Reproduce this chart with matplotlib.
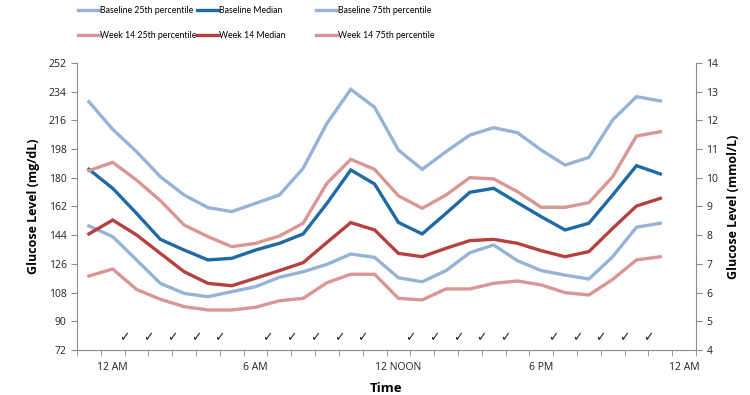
import matplotlib
matplotlib.use("Agg")
import matplotlib.pyplot as plt
import numpy as np

# hourly categories: 11 PM, 12 AM ... 11 PM, plus an empty 12 AM slot at the end
n_categories = 26
tick_positions = [1, 7, 13, 19, 25]
tick_labels = ["12 AM", "6 AM", "12 NOON", "6 PM", "12 AM"]

base_p25 = [149.8, 143.1, 128.5, 113.8, 107.5, 105.4, 108.6, 111.7, 117.6, 121.1, 125.7, 132.2, 130.1,
            117.3, 114.8, 121.8, 133.0, 137.9, 128.0, 121.8, 119.0, 116.5, 130.5, 149.0, 151.5]
base_med = [185.3, 173.4, 157.7, 141.4, 134.7, 128.5, 129.5, 134.7, 138.9, 144.8, 164.0, 184.9, 176.1,
            152.0, 144.8, 157.7, 170.9, 173.4, 164.4, 155.6, 147.3, 151.5, 169.2, 187.6, 182.4]
base_p75 = [227.7, 210.4, 196.4, 180.7, 169.2, 161.3, 158.8, 164.0, 169.2, 186.0, 214.2, 235.5, 224.2,
            197.4, 185.3, 196.4, 206.8, 211.4, 208.3, 197.4, 188.0, 192.8, 216.3, 230.9, 228.2]
wk14_p25 = [118.4, 122.8, 110.0, 103.8, 99.2, 97.1, 97.1, 98.8, 102.9, 104.4, 114.2, 119.5, 119.5,
            104.4, 103.4, 110.3, 110.3, 113.8, 115.3, 112.8, 108.0, 106.5, 116.3, 128.5, 130.5]
wk14_med = [144.8, 153.5, 144.2, 132.6, 121.1, 113.8, 112.3, 117.0, 121.8, 126.8, 139.5, 151.9, 147.3,
            132.6, 130.5, 135.8, 140.6, 141.4, 138.9, 134.3, 130.5, 133.7, 148.3, 162.3, 167.1]
wk14_p75 = [184.5, 189.7, 178.6, 165.7, 150.4, 143.1, 136.8, 138.9, 143.5, 151.5, 176.6, 191.6, 185.3,
            168.7, 160.9, 169.2, 180.1, 179.3, 171.3, 161.5, 161.5, 164.4, 180.7, 206.2, 208.9]

# hours with a check mark (drawn on the category boundaries)
check_marks = [2, 3, 4, 5, 6, 8, 9, 10, 11, 12, 14, 15, 16, 17, 18, 20, 21, 22, 23, 24]

light_blue = "#95b3d7"
dark_blue = "#1f6aa5"
light_red = "#d99694"
dark_red = "#b5413f"
axis_gray = "#8c8c8c"

plt.rcParams['font.family'] = ['Open Sans', 'DejaVu Sans']

fig = plt.figure(figsize=(7.5, 3.95), dpi=100)
ax = fig.add_axes([77 / 750, 1 - 350 / 395, (696 - 77) / 750, (350 - 63) / 395])

x = np.arange(len(base_med))
series = [
    ("Baseline 25th percentile", base_p25, light_blue),
    ("Baseline Median", base_med, dark_blue),
    ("Baseline 75th percentile", base_p75, light_blue),
    ("Week 14 25th percentile", wk14_p25, light_red),
    ("Week 14 Median", wk14_med, dark_red),
    ("Week 14 75th percentile", wk14_p75, light_red),
]
handles = []
for label, vals, col in series:
    h, = ax.plot(x, vals, color=col, lw=2.4, label=label, solid_joinstyle='miter')
    handles.append(h)

for k in check_marks:
    ax.text(k - 0.5, 80, "\u2713", ha='center', va='center', fontsize=9,
            family=['DejaVu Sans'], color='#222222')

ax.set_xlim(-0.5, n_categories - 0.5)
ax.set_ylim(72, 252)
ax.set_yticks(np.arange(72, 253, 18))
ax.set_xticks(tick_positions)
ax.set_xticklabels(tick_labels, fontsize=7.5)
ax.set_xticks(np.arange(-0.5, n_categories, 1), minor=True)
ax.tick_params(axis='x', which='major', length=0, pad=9, colors='#222222')
ax.tick_params(axis='x', which='minor', length=4, color=axis_gray, direction='out')
ax.tick_params(axis='y', length=4, color=axis_gray, labelsize=7.5, labelcolor='#222222')

for side in ['top', 'right']:
    ax.spines[side].set_visible(False)
for side in ['left', 'bottom']:
    ax.spines[side].set_color(axis_gray)

ax.set_ylabel("Glucose Level (mg/dL)", fontsize=9, fontweight='bold', labelpad=6)
ax.set_xlabel("Time", fontsize=9.5, fontweight='bold', labelpad=6)

ax2 = ax.twinx()
ax2.set_ylim(72 / 18, 252 / 18)
ax2.set_yticks(np.arange(4, 15, 1))
ax2.tick_params(axis='y', length=4, color=axis_gray, labelsize=7.5, labelcolor='#222222')
for side in ['top', 'left', 'bottom']:
    ax2.spines[side].set_visible(False)
ax2.spines['right'].set_color(axis_gray)
ax2.set_ylabel("Glucose Level (mmol/L)", fontsize=9, fontweight='bold', labelpad=6)

# legend: three equal-width columns (baseline on top, week 14 below)
col_left = [70, 189, 308]
for c, px in enumerate(col_left):
    fig.legend([handles[c], handles[c + 3]], [series[c][0], series[c + 3][0]],
               loc='upper left', bbox_to_anchor=(px / 750, 1.004), frameon=False,
               prop={'family': ['Lato', 'DejaVu Sans'], 'size': 6.3},
               handlelength=2.4, handletextpad=0.12, labelspacing=1.75)

fig.savefig("out.png", dpi=100)
